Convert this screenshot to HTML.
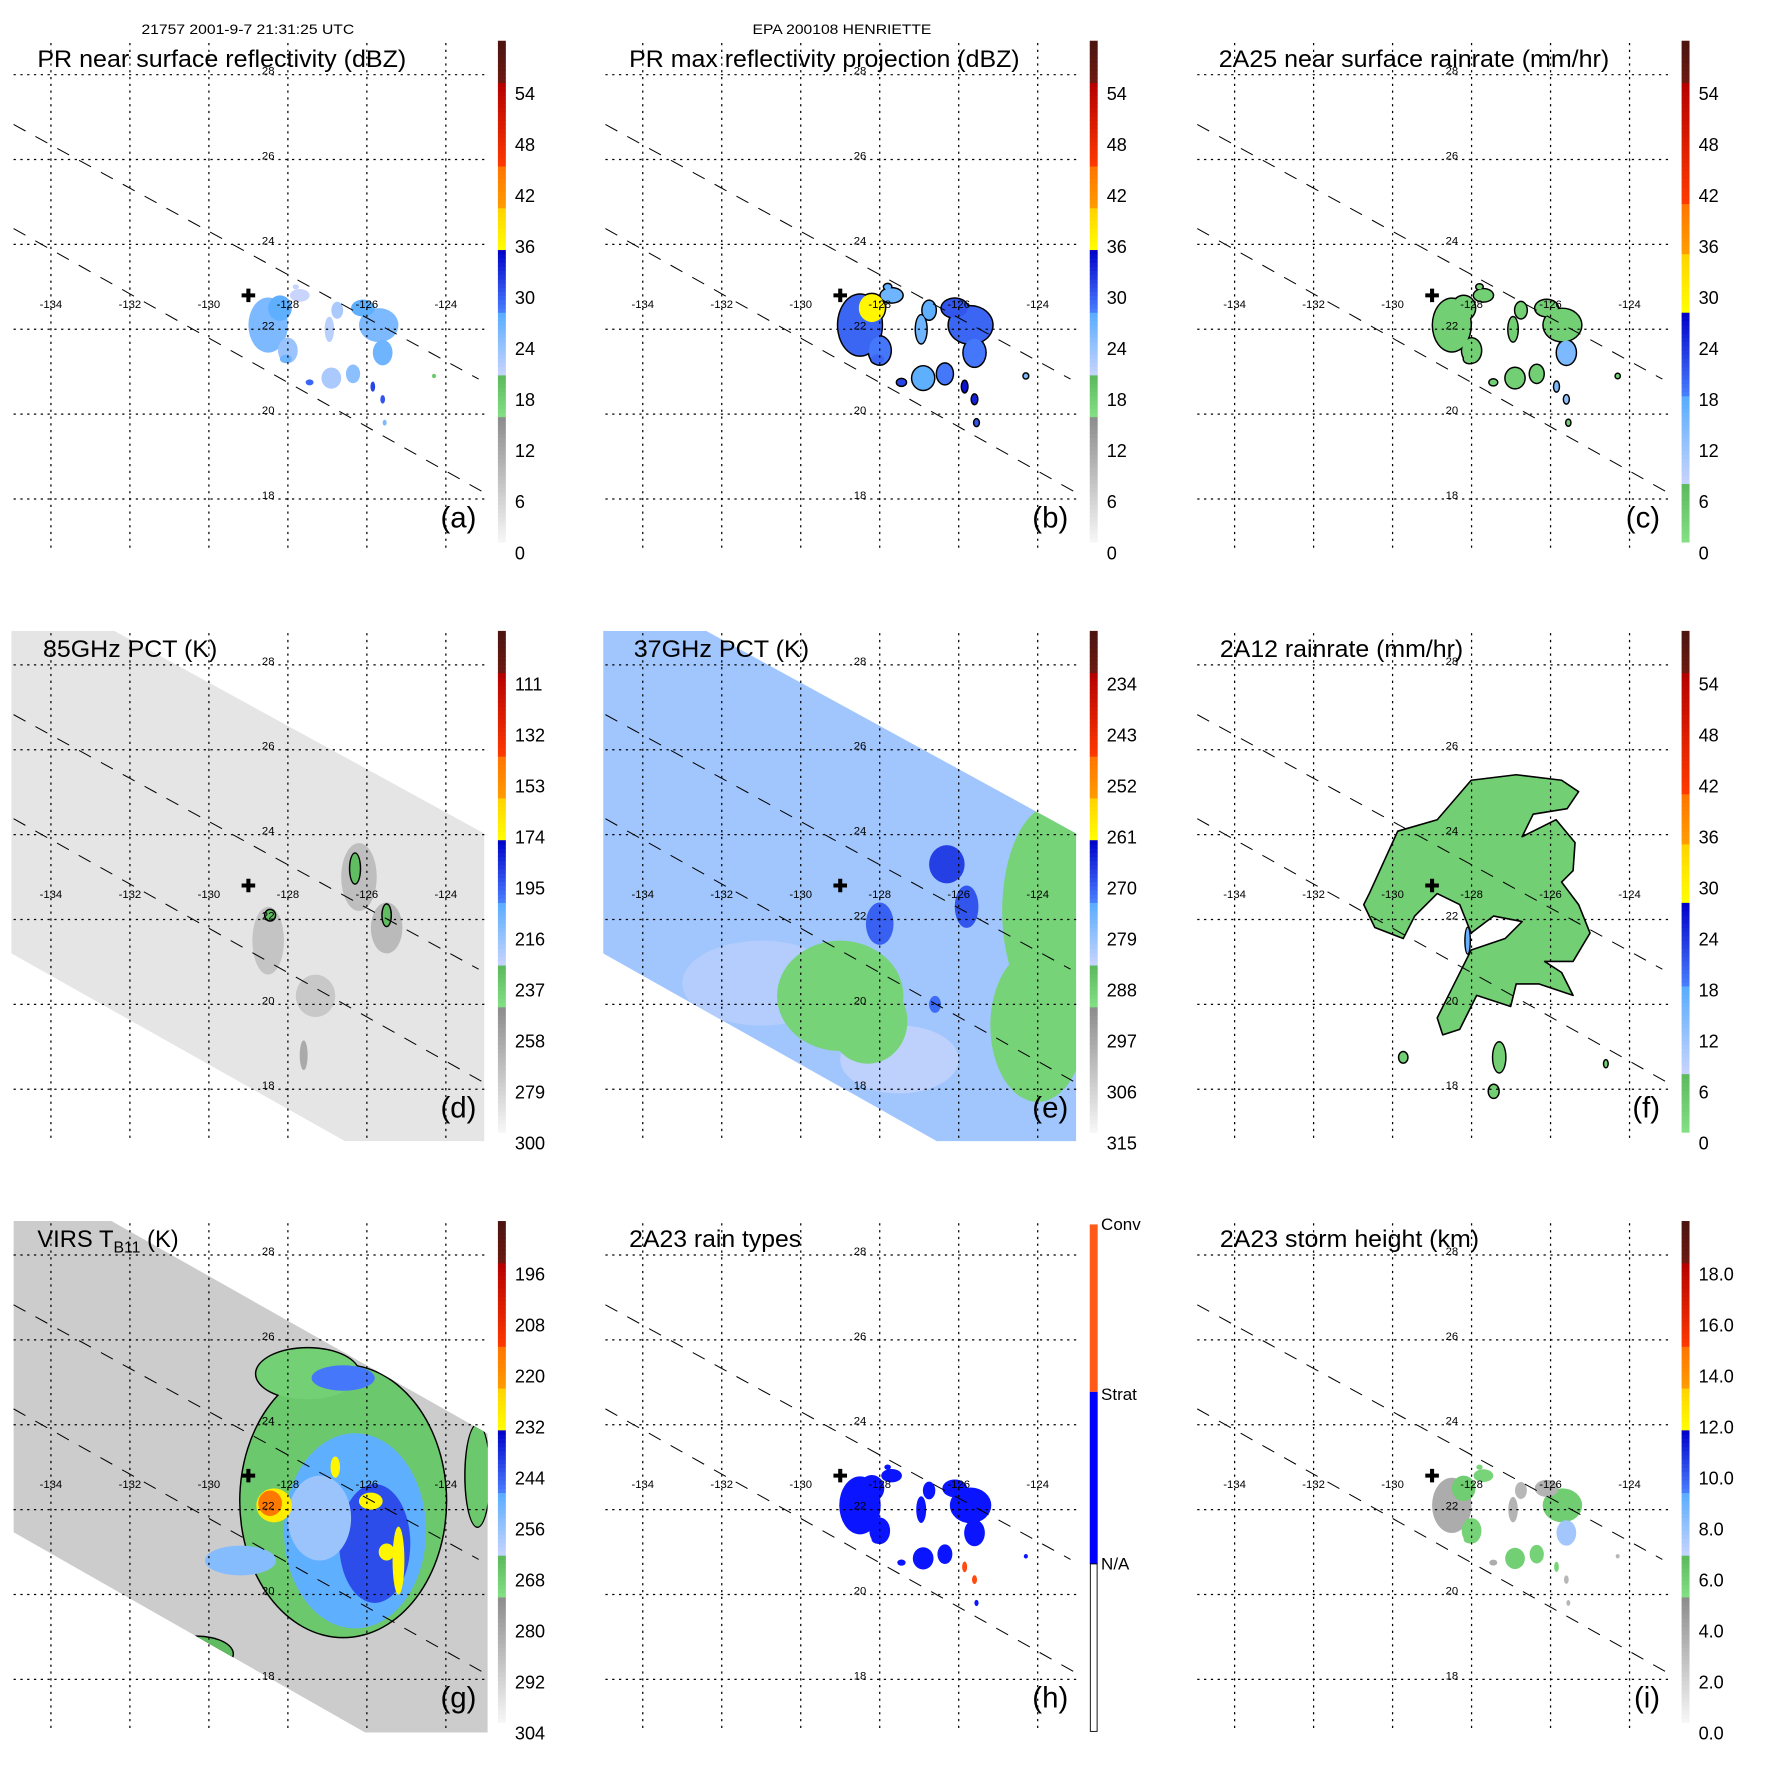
<!DOCTYPE html>
<html><head><meta charset="utf-8"><style>
html,body{margin:0;padding:0;background:#fff;}
svg{display:block;font-family:"Liberation Sans",Arial,sans-serif;}
</style></head><body>
<svg id="fig" xmlns="http://www.w3.org/2000/svg" width="1771" height="1771" viewBox="0 0 1565 1565">
<rect x="0" y="0" width="1565" height="1565" fill="#fff"/>
<text x="125" y="30" font-size="12" textLength="188" lengthAdjust="spacingAndGlyphs">21757 2001-9-7 21:31:25 UTC</text>
<text x="665" y="30" font-size="12" textLength="158" lengthAdjust="spacingAndGlyphs">EPA 200108 HENRIETTE</text>
</svg>
<script>
// ---------- axis ticks ----------
const lonTicks=[-134,-132,-130,-128,-126,-124];
const latTicks=[28,26,24,22,20,18];
// ---------- colorbar labels ----------
const cbA=["0","6","12","18","24","30","36","42","48","54"];
const cbD=["300","279","258","237","216","195","174","153","132","111"];
const cbE=["315","306","297","288","279","270","261","252","243","234"];
const cbG=["304","292","280","268","256","244","232","220","208","196"];
const cbI=["0.0","2.0","4.0","6.0","8.0","10.0","12.0","14.0","16.0","18.0"];
const cbH=["N/A","Strat","Conv"];
// ---------- storm center ----------
const centerLon=-129.0, centerLat=22.8;
// ---------- PR rain cells (shared geometry) ----------
const prLon=[-128.5,-128.2,-128.0,-127.7,-126.75,-126.95,-125.7,-126.1,-125.6,-126.9,-126.35,-125.85,-125.6,-125.55,-128.05,-127.45,-124.3,-127.8];
const prLat=[22.1,22.5,21.5,22.8,22.45,22.0,22.1,22.5,21.45,20.85,20.95,20.65,20.35,19.8,21.3,20.75,20.9,23.0];
const prRx=[0.5,0.3,0.25,0.25,0.15,0.12,0.5,0.3,0.25,0.25,0.18,0.06,0.06,0.05,0.15,0.1,0.05,0.08];
const prRy=[0.65,0.3,0.3,0.15,0.2,0.3,0.4,0.2,0.3,0.25,0.22,0.12,0.1,0.07,0.1,0.07,0.05,0.06];
const aVal=[25,27,23,20,22,21,25,27,26,22,24,31,30,25,26,29,18,20];
const bVal=[29,36,28,26,27,26,29,30,28,27,28,34,33,30,29,31,25,27];
const cVal=[3,3,3,3,3,3,3,3,14,3,3,14,12,3,3,3,3,3];
const hVal=[1,1,1,1,1,1,1,1,1,1,1,2,2,1,1,1,1,1];
const iVal=[3.5,5.8,5.6,5.5,3,3.2,5.8,3.2,7.5,5.7,5.6,5.5,3,3,5.6,3.5,3,5.5];
// ---------- 2A12 rain area outline ----------
const fLon=[-130.59,-129.87,-128.87,-128.01,-126.87,-125.72,-125.29,-125.58,-126.44,-126.72,-125.86,-125.38,-125.43,-125.72,-125.29,-125.0,-125.43,-126.15,-125.72,-125.43,-126.29,-126.87,-127.01,-127.87,-128.30,-128.73,-128.87,-128.44,-128.01,-127.15,-126.72,-127.44,-128.01,-128.30,-128.87,-129.44,-129.73,-130.45,-130.73];
const fLat=[22.61,24.08,24.35,25.28,25.41,25.28,25.01,24.61,24.48,23.95,24.35,23.81,23.15,22.88,22.35,21.68,21.01,21.01,20.75,20.21,20.48,20.48,19.95,20.21,19.41,19.28,19.68,20.48,21.28,21.55,21.95,22.08,21.68,22.35,22.61,22.08,21.55,21.81,22.35];
const fAreaVal=3;
const fBlobLon=[-127.3,-129.73,-127.44,-128.1,-124.6];
const fBlobLat=[18.75,18.75,17.95,21.5,18.6];
const fBlobRx=[0.15,0.1,0.12,0.05,0.04];
const fBlobRy=[0.35,0.12,0.15,0.3,0.08];
const fBlobVal=[3,3,3,16,3];
// ---------- 85 GHz PCT features (K) ----------
const dBase=291;
const dLon=[-126.2,-125.5,-128.5,-127.3,-127.6,-126.3,-125.5,-128.45];
const dLat=[23.0,21.8,21.5,20.2,18.8,23.2,22.1,22.1];
const dRx=[0.45,0.4,0.4,0.5,0.1,0.12,0.1,0.12];
const dRy=[0.8,0.6,0.8,0.5,0.35,0.35,0.25,0.12];
const dVal=[272,270,275,277,262,232,232,232];
// ---------- 37 GHz PCT features (K) ----------
const eBase=281;
const eLon=[-131,-127.5,-129.0,-128.3,-123.6,-124.0,-126.3,-125.8,-128.0,-126.6];
const eLat=[20.5,18.7,20.2,19.6,22.2,19.5,23.3,22.3,21.9,20.0];
const eRx=[2.0,1.5,1.6,1.0,1.3,1.2,0.45,0.3,0.35,0.15];
const eRy=[1.0,0.8,1.3,1.0,2.5,1.8,0.45,0.5,0.5,0.2];
const eVal=[283,284,290,290,290,290,268,270,271,272];
// ---------- VIRS Tb11 features (K) ----------
const gBase=292;
const gLon=[-126.6,-127.5,-123.2,-130.3,-126.3,-126.6,-125.8,-127.2,-129.2,-129.5,-128.35,-128.45,-126.8,-125.9,-125.2,-125.5];
const gLat=[22.2,25.2,22.8,18.6,21.5,25.1,21.2,21.8,20.8,18.2,22.1,22.15,23.0,22.2,20.8,21.0];
const gRx=[2.6,1.3,0.3,0.9,1.8,0.8,0.9,0.8,0.9,0.3,0.45,0.3,0.12,0.3,0.15,0.2];
const gRy=[3.2,0.6,1.2,0.4,2.3,0.3,1.4,1.0,0.35,0.2,0.4,0.3,0.25,0.2,0.8,0.2];
const gVal=[268,270,268,265,250,248,243,258,255,245,230,215,232,232,232,232];

const NS='http://www.w3.org/2000/svg';
const svg=document.getElementById('fig');
const colX=[0,523,1046], rowY=[0,521.5,1043];
function lonX(l){return 45+(l+134)*34.9;}
function latY(t){return 66+(28-t)*37.5;}
function mk(tag,attrs,parent){const e=document.createElementNS(NS,tag);for(const k in attrs)e.setAttribute(k,attrs[k]);parent.appendChild(e);return e;}
function hx(c){return [1,3,5].map(i=>parseInt(c.substr(i,2),16));}
function lerpC(a,b,t){const A=hx(a),B=hx(b);return 'rgb('+A.map((v,i)=>Math.round(v+(B[i]-v)*t)).join(',')+')';}
const CM_DBZ=[[0,3/12,'#f7f7f7','#8c8c8c'],[3/12,4/12,'#84e084','#5cb85c'],[4/12,5.5/12,'#c8d4fc','#58acff'],[5.5/12,7/12,'#4a80ff','#0000c8'],[7/12,8/12,'#ffff00','#ffd200'],[8/12,9/12,'#ff9c00','#ff7400'],[9/12,11/12,'#ff3a00','#b40000'],[11/12,1,'#6c1a12','#4c1410']];
const CM_RAIN=[[0,.118,'#84e084','#5cb85c'],[.118,.29,'#c8d4fc','#58acff'],[.29,.458,'#4a80ff','#0000c8'],[.458,.579,'#ffff00','#ffd200'],[.579,.679,'#ff9c00','#ff7400'],[.679,.917,'#ff3a00','#b40000'],[.917,1,'#6c1a12','#4c1410']];
function cmap(cm,f){f=Math.max(0,Math.min(0.9999,f));for(const s of cm){if(f>=s[0]&&f<s[1])return lerpC(s[2],s[3],(f-s[0])/(s[1]-s[0]));}return cm[cm.length-1][3];}

let clipN=0;
function panel(ci,ri,name){
  const g=mk('g',{transform:'translate('+colX[ci]+','+rowY[ri]+')'},svg);
  
  
  return g;
}
function clipRect(g,pts){
  const id='clip'+(clipN++);
  const cp=mk('clipPath',{id:id},g);
  if(pts)mk('polygon',{points:pts.map(p=>p.join(',')).join(' ')},cp);
  else mk('rect',{x:12,y:36,width:418,height:451},cp);
  const dg=mk('g',{'clip-path':'url(#'+id+')'},g);
  
  
  return dg;
}
function blobs(dg,lons,lats,rxs,rys,vals,colorFn,outline,scale){
  scale=scale||1;
  if(outline){
    for(let i=0;i<lons.length;i++){
      const e=mk('ellipse',{cx:lonX(lons[i]),cy:latY(lats[i]),rx:rxs[i]*34.9*scale+1.3,ry:rys[i]*37.5*scale+1.3,fill:'#000'},dg);
      
      
    }
  }
  for(let i=0;i<lons.length;i++){
    const e=mk('ellipse',{cx:lonX(lons[i]),cy:latY(lats[i]),rx:rxs[i]*34.9*scale,ry:rys[i]*37.5*scale,fill:colorFn(vals[i])},dg);
    
    
  }
}
function grid(g){
  for(const l of lonTicks){
    const x=lonX(l);
    const ln=mk('line',{x1:x,y1:38,x2:x,y2:487,stroke:'#000','stroke-width':1.1,'stroke-dasharray':'2,4'},g);
    
    
    const t=mk('text',{x:x,y:272,'font-size':10,'text-anchor':'middle'},g);
    t.textContent=String(l);
    
    
  }
  for(const l of latTicks){
    const y=latY(l);
    const ln=mk('line',{x1:12,y1:y,x2:430,y2:y,stroke:'#000','stroke-width':1.1,'stroke-dasharray':'2,4'},g);
    
    
    const t=mk('text',{x:237,y:y,'font-size':10,'text-anchor':'middle'},g);
    t.textContent=String(l);
    
    
  }
  const s1=mk('line',{x1:12,y1:110,x2:423,y2:335,stroke:'#000','stroke-width':0.9,'stroke-dasharray':'12,10'},g);
  
  
  const s2=mk('line',{x1:12,y1:202,x2:430,y2:436.5,stroke:'#000','stroke-width':0.9,'stroke-dasharray':'12,10'},g);
  
  
  const cx=lonX(centerLon), cy=latY(centerLat);
  const cr=mk('path',{d:'M'+(cx-6)+','+cy+'H'+(cx+6)+'M'+cx+','+(cy-6)+'V'+(cy+6),stroke:'#000','stroke-width':3.6},g);
  
  
}
function title(g,txt,x,w,sub){
  const t=mk('text',{x:x,y:59,'font-size':21,textLength:w,lengthAdjust:'spacingAndGlyphs'},g);
  
  
  if(sub){
    t.removeAttribute('textLength');
    t.textContent='VIRS T';
    const ts=mk('tspan',{'font-size':14,dy:5},t);ts.textContent='B11';
    const t2=mk('tspan',{dy:-5},t);t2.textContent='  (K)';
  } else t.textContent=txt;
}
function letter(g,l){
  const t=mk('text',{x:421,y:466,'font-size':26,'text-anchor':'end'},g);
  t.textContent='('+l+')';
  
  
}
function colorbar(g,cm,labels){
  const cb=mk('g',{},g);
  
  
  const top=36,bot=479,N=120;
  for(let i=0;i<N;i++){
    const y=bot-(i+1)*(bot-top)/N;
    mk('rect',{x:440,y:y,width:7,height:(bot-top)/N+0.4,fill:cmap(cm,(i+0.5)/N)},cb);
  }
  labels.forEach((s,i)=>{
    const t=mk('text',{x:455,y:488.7-i*45.08+5.5,'font-size':16},cb);
    t.textContent=s;
    
    
  });
}
const swathDE=[[10,36],[101,36],[428,215],[428,487],[305,487],[10,321]];
const swathG=[[12,36],[98.5,36],[431,224],[431,488],[322.7,488],[12,311]];

// (a)
let g=panel(0,0,'panel-a-pr-reflectivity');
let dg=clipRect(g);
blobs(dg,prLon,prLat,prRx,prRy,aVal,v=>cmap(CM_DBZ,v/60),false);
grid(g);title(g,'PR near surface reflectivity (dBZ)',33,326);letter(g,'a');colorbar(g,CM_DBZ,cbA);
// (b)
g=panel(1,0,'panel-b-pr-max-reflectivity');
dg=clipRect(g);
blobs(dg,prLon,prLat,prRx,prRy,bVal,v=>cmap(CM_DBZ,v/60),true,1.1);
grid(g);title(g,'PR max reflectivity projection (dBZ)',33,345);letter(g,'b');colorbar(g,CM_DBZ,cbA);
// (c)
g=panel(2,0,'panel-c-2a25-rainrate');
dg=clipRect(g);
blobs(dg,prLon,prLat,prRx,prRy,cVal,v=>cmap(CM_RAIN,v/60),true,0.95);
grid(g);title(g,'2A25 near surface rainrate (mm/hr)',31,345);letter(g,'c');colorbar(g,CM_RAIN,cbA);
// (d)
g=panel(0,1,'panel-d-85ghz-pct');
dg=clipRect(g,swathDE);
mk('rect',{x:0,y:0,width:440,height:500,fill:cmap(CM_DBZ,(300-dBase)/210)},dg);
blobs(dg,dLon.slice(0,5),dLat.slice(0,5),dRx.slice(0,5),dRy.slice(0,5),dVal.slice(0,5),v=>cmap(CM_DBZ,(300-v)/210),false);
blobs(dg,dLon.slice(5),dLat.slice(5),dRx.slice(5),dRy.slice(5),dVal.slice(5),v=>cmap(CM_DBZ,(300-v)/210),true);
grid(g);title(g,'85GHz PCT (K)',38,154);letter(g,'d');colorbar(g,CM_DBZ,cbD);
// (e)
g=panel(1,1,'panel-e-37ghz-pct');
dg=clipRect(g,swathDE);
mk('rect',{x:0,y:0,width:440,height:500,fill:cmap(CM_DBZ,(315-eBase)/90)},dg);
blobs(dg,eLon,eLat,eRx,eRy,eVal,v=>cmap(CM_DBZ,(315-v)/90),false);
grid(g);title(g,'37GHz PCT (K)',37,155);letter(g,'e');colorbar(g,CM_DBZ,cbE);
// (f)
g=panel(2,1,'panel-f-2a12-rainrate');
dg=clipRect(g);
const pts=fLon.map((l,i)=>lonX(l)+','+latY(fLat[i])).join(' ');
const poly=mk('polygon',{points:pts,fill:cmap(CM_RAIN,fAreaVal/60),stroke:'#000','stroke-width':1.4,'stroke-linejoin':'round'},dg);


blobs(dg,fBlobLon,fBlobLat,fBlobRx,fBlobRy,fBlobVal,v=>cmap(CM_RAIN,v/60),true);
grid(g);title(g,'2A12 rainrate (mm/hr)',32,215);letter(g,'f');colorbar(g,CM_RAIN,cbA);
// (g)
g=panel(0,2,'panel-g-virs-tb11');
dg=clipRect(g,swathG);
mk('rect',{x:0,y:0,width:440,height:500,fill:cmap(CM_DBZ,(304-gBase)/120)},dg);
blobs(dg,gLon.slice(0,4),gLat.slice(0,4),gRx.slice(0,4),gRy.slice(0,4),gVal.slice(0,4),v=>cmap(CM_DBZ,(304-v)/120),true);
blobs(dg,gLon.slice(4),gLat.slice(4),gRx.slice(4),gRy.slice(4),gVal.slice(4),v=>cmap(CM_DBZ,(304-v)/120),false);
grid(g);title(g,'',33,130,true);letter(g,'g');colorbar(g,CM_DBZ,cbG);
// (h)
g=panel(1,2,'panel-h-2a23-rain-types');
dg=clipRect(g);
blobs(dg,prLon,prLat,prRx,prRy,hVal,v=>v===2?'#ff4a10':'#0a14ff',false,1.05);
grid(g);title(g,'2A23 rain types',33,152);letter(g,'h');
{
  const cb=mk('g',{},g);
  
  
  mk('rect',{x:440,y:39,width:7,height:148,fill:'#ff5a1a'},cb);
  mk('rect',{x:440,y:187,width:7,height:152,fill:'#0000ff'},cb);
  mk('rect',{x:440.5,y:339,width:6,height:148,fill:'#fff',stroke:'#000','stroke-width':0.8},cb);
  const ys=[339,189,39];
  cbH.forEach((s,i)=>{
    const t=mk('text',{x:450,y:ys[i]+5,'font-size':15},cb);
    t.textContent=s;
    
    
  });
}
// (i)
g=panel(2,2,'panel-i-storm-height');
dg=clipRect(g);
blobs(dg,prLon,prLat,prRx,prRy,iVal,v=>cmap(CM_DBZ,v/20),false);
grid(g);title(g,'2A23 storm height (km)',32,229);letter(g,'i');colorbar(g,CM_DBZ,cbI);
</script>
</body></html>
